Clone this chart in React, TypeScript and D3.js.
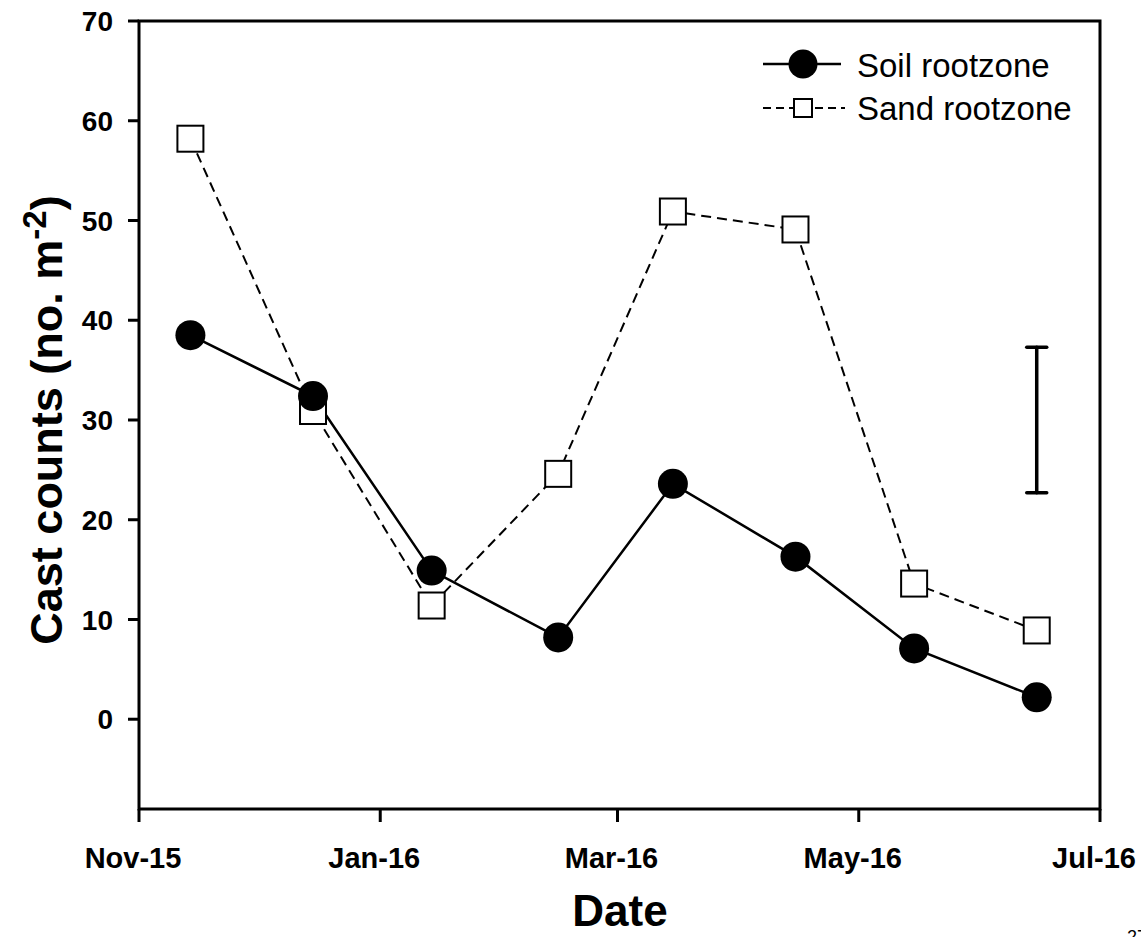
import React from "react";
import * as d3 from "d3";

const sampleDates = ["2015-11-14", "2015-12-15", "2016-01-14", "2016-02-15", "2016-03-15", "2016-04-15", "2016-05-15", "2016-06-15"];
const soilValues = [38.5, 32.4, 14.9, 8.2, 23.6, 16.3, 7.1, 2.2];
const sandValues = [58.2, 30.9, 11.4, 24.6, 50.9, 49.1, 13.6, 8.9];
const yTicks = [0, 10, 20, 30, 40, 50, 60, 70];
const xTickDates = ["2015-11-01", "2016-01-01", "2016-03-01", "2016-05-01", "2016-07-01"];
const xTickLabels = ["Nov-15", "Jan-16", "Mar-16", "May-16", "Jul-16"];
const errorBar = { date: "2016-06-15", center: 30, half: 7.3 };
const seriesNames = ["Soil rootzone", "Sand rootzone"];

const parse = d3.timeParse("%Y-%m-%d");
const FONT = "'Liberation Sans', Arial, Helvetica, sans-serif";

export default function App() {
  const W = 1141, H = 937;
  const left = 139, right = 1100, top = 21, bottom = 809;
  const x = d3.scaleTime().domain([parse(xTickDates[0])!, parse(xTickDates[4])!]).range([left, right]);
  const y = d3.scaleLinear().domain([-9, 70]).range([bottom, top]);

  const soil = sampleDates.map((d, i) => ({ d: parse(d)!, v: soilValues[i] }));
  const sand = sampleDates.map((d, i) => ({ d: parse(d)!, v: sandValues[i] }));
  const line = d3.line<{ d: Date; v: number }>().x((p) => x(p.d)).y((p) => y(p.v));

  const ebx = x(parse(errorBar.date)!);
  const eTop = y(errorBar.center + errorBar.half);
  const eBot = y(errorBar.center - errorBar.half);

  const sq = 26;
  return (
    <div style={{ position: "absolute", left: 0, top: 0 }}>
      <svg width={W} height={H} style={{ display: "block", background: "#fff" }} fontFamily={FONT}>
        <rect x={0} y={0} width={W} height={H} fill="#fff" />
        {/* frame */}
        <rect x={left} y={top} width={right - left} height={bottom - top} fill="none" stroke="#000" strokeWidth={3} />
        {/* y ticks */}
        {yTicks.map((t) => (
          <g key={"y" + t}>
            <line x1={left - 11} x2={left} y1={y(t)} y2={y(t)} stroke="#000" strokeWidth={3} />
            <text x={left - 26} y={y(t)} dy="0.36em" textAnchor="end" fontSize={28} fontWeight="bold">{t}</text>
          </g>
        ))}
        {/* x ticks */}
        {xTickDates.map((t, i) => (
          <g key={"x" + t}>
            <line x1={x(parse(t)!)} x2={x(parse(t)!)} y1={bottom} y2={bottom + 13} stroke="#000" strokeWidth={3} />
            <text x={x(parse(t)!) - 6} y={bottom + 59} textAnchor="middle" fontSize={29} fontWeight="bold">{xTickLabels[i]}</text>
          </g>
        ))}
        {/* axis titles */}
        <text x={620} y={926} textAnchor="middle" fontSize={44} fontWeight="bold">Date</text>
        <text transform={`translate(62, 420) rotate(-90)`} textAnchor="middle" fontSize={45} fontWeight="bold">
          Cast counts (no. m<tspan dy={-16} fontSize={33}>-2</tspan><tspan dy={16}>)</tspan>
        </text>
        {/* sand series */}
        <path d={line(sand) || ""} fill="none" stroke="#000" strokeWidth={2} strokeDasharray="10,6" />
        {/* soil series */}
        <path d={line(soil) || ""} fill="none" stroke="#000" strokeWidth={2.5} />
        {sand.map((p, i) => (
          <rect key={"s" + i} x={x(p.d) - sq / 2} y={y(p.v) - sq / 2} width={sq} height={sq} fill="#fff" stroke="#000" strokeWidth={2} />
        ))}
        {soil.map((p, i) => (
          <circle key={"c" + i} cx={x(p.d)} cy={y(p.v)} r={15} fill="#000" />
        ))}
        {/* error bar */}
        <g stroke="#000" strokeWidth={3.5} strokeLinecap="round">
          <line x1={ebx} x2={ebx} y1={eTop} y2={eBot} />
          <line x1={ebx - 10} x2={ebx + 10} y1={eTop} y2={eTop} />
          <line x1={ebx - 10} x2={ebx + 10} y1={eBot} y2={eBot} />
        </g>
        {/* legend */}
        <g>
          <line x1={763} x2={841} y1={64} y2={64} stroke="#000" strokeWidth={2.5} />
          <circle cx={803} cy={64} r={14.5} fill="#000" />
          <text x={857} y={65} dy="0.36em" fontSize={33}>{seriesNames[0]}</text>
          <line x1={763} x2={845} y1={108} y2={108} stroke="#000" strokeWidth={2} strokeDasharray="8,5" />
          <rect x={794} y={99} width={18} height={18} fill="#fff" stroke="#000" strokeWidth={2} />
          <text x={857} y={108} dy="0.36em" fontSize={33}>{seriesNames[1]}</text>
        </g>
        {/* page number, cut off as in the source */}
        <text x={1127} y={943} fontSize={18}>27</text>
      </svg>
    </div>
  );
}
